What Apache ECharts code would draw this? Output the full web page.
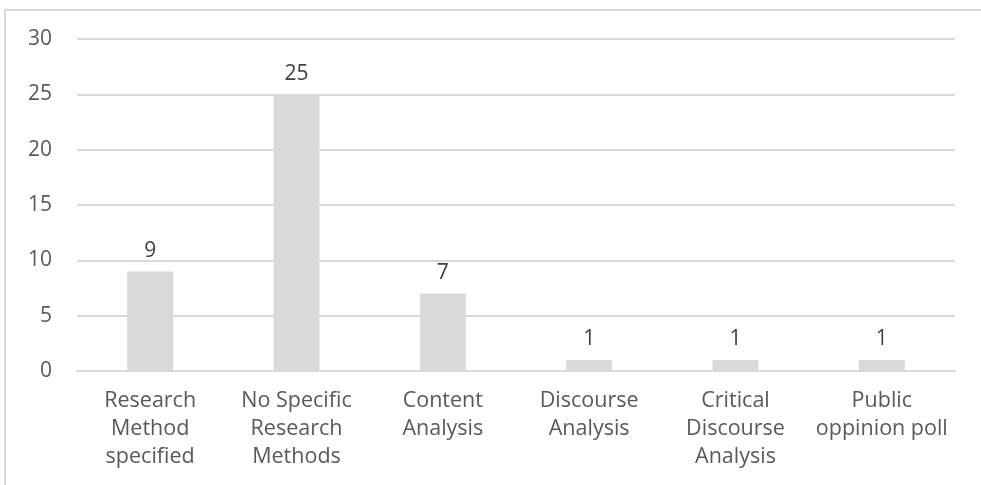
<!DOCTYPE html>
<html>
<head>
<meta charset="utf-8">
<script src="https://cdn.jsdelivr.net/npm/echarts@6/dist/echarts.min.js"></script>
<style>
  * { margin: 0; padding: 0; }
  body { background: #fff; }
  #chart-container { width: 981px; height: 485px; }
</style>
</head>
<body>
<div id="chart-container"></div>
<script>
  var categories = [
    'Research\nMethod\nspecified',
    'No Specific\nResearch\nMethods',
    'Content\nAnalysis',
    'Discourse\nAnalysis',
    'Critical\nDiscourse\nAnalysis',
    'Public\noppinion poll'
  ]
  var counts = [9, 25, 7, 1, 1, 1]
  var yTicks = [0, 5, 10, 15, 20, 25, 30]

  var myChart = echarts.init(document.getElementById('chart-container'), null, { renderer: 'canvas' })
  var font = "'Open Sans', 'Liberation Sans', sans-serif"

  var option = {
    animation: false,
    textStyle: { fontFamily: font },
    graphic: [
      {
        type: 'polyline',
        shape: { points: [[5, 485], [5, 10], [981, 10]] },
        style: { stroke: '#d9d9d9', lineWidth: 2, fill: null }
      }
    ],
    grid: { left: 77, right: 26, top: 39, bottom: 114 },
    xAxis: {
      type: 'category',
      data: categories,
      axisLine: { lineStyle: { color: '#d9d9d9', width: 2 } },
      axisTick: { show: false },
      axisLabel: {
        interval: 0,
        color: '#595959',
        fontSize: 21.5,
        lineHeight: 28,
        margin: 16,
        fontFamily: font
      }
    },
    yAxis: {
      type: 'value',
      min: yTicks[0],
      max: yTicks[yTicks.length - 1],
      interval: 5,
      axisLine: { show: false },
      axisTick: { show: false },
      splitLine: { lineStyle: { color: '#d9d9d9', width: 2 } },
      axisLabel: { color: '#595959', fontSize: 21, margin: 25, fontFamily: font }
    },
    series: [
      {
        type: 'bar',
        data: counts,
        barWidth: 46,
        itemStyle: { color: '#d9d9d9' },
        label: {
          show: true,
          position: 'top',
          distance: 10,
          color: '#404040',
          fontSize: 21,
          fontFamily: font
        }
      }
    ]
  }
  myChart.setOption(option)
  window.addEventListener('resize', myChart.resize)
</script>
</body>
</html>
